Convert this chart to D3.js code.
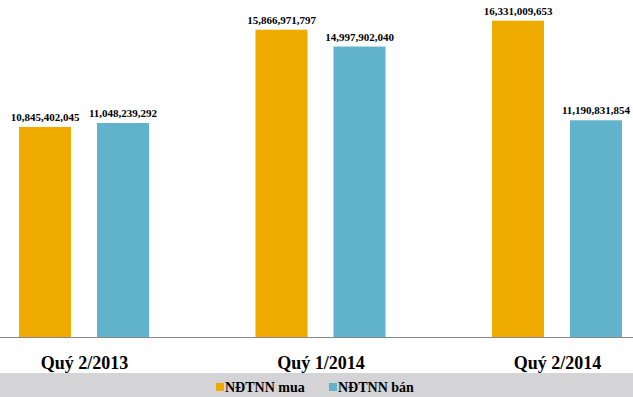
<!DOCTYPE html>
<html>
<head>
<meta charset="utf-8">
<script src="https://cdn.jsdelivr.net/npm/d3@7"></script>
<style>
  html, body { margin: 0; padding: 0; background: #fff; }
  svg { display: block; font-family: "Liberation Serif", "Times New Roman", serif; }
</style>
</head>
<body>
<div id="chart"></div>
<script>
// data
const categories = ["Quý 2/2013", "Quý 1/2014", "Quý 2/2014"];
const seriesNames = ["NĐTNN mua", "NĐTNN bán"];
const muaValues = [10845402045, 15866971797, 16331009653];
const banValues = [11048239292, 14997902040, 11190831854];
const seriesColors = ["#f0ab00", "#60b3cb"];

const width = 633, height = 397;
const baseY = 337;
const serif = "'Liberation Serif', 'Times New Roman', serif";

const svg = d3.select("#chart").append("svg")
  .attr("width", width)
  .attr("height", height);

const rows = categories.map((c, i) => ({ cat: c, values: [muaValues[i], banValues[i]] }));

const x0 = d3.scalePoint()
  .domain(categories)
  .range([84, 557]);

const x1 = d3.scaleBand()
  .domain(seriesNames)
  .range([-65, 65])
  .paddingInner(1 / 3);

const y = d3.scaleLinear()
  .domain([0, 17.4e9])
  .range([baseY, 0]);

const fmt = d3.format(",");

// bars
const groups = svg.selectAll(".grp")
  .data(rows)
  .enter().append("g")
  .attr("class", "grp")
  .attr("transform", d => "translate(" + x0(d.cat) + ",0)");

groups.selectAll("rect")
  .data(d => d.values.map((v, j) => ({ name: seriesNames[j], v: v, j: j })))
  .enter().append("rect")
  .attr("x", d => x1(d.name))
  .attr("y", d => y(d.v))
  .attr("width", x1.bandwidth())
  .attr("height", d => baseY - y(d.v))
  .attr("fill", d => seriesColors[d.j]);

// value labels
groups.selectAll("text")
  .data(d => d.values.map((v, j) => ({ name: seriesNames[j], v: v })))
  .enter().append("text")
  .attr("x", d => x1(d.name) + x1.bandwidth() / 2)
  .attr("y", d => y(d.v) - 6)
  .attr("text-anchor", "middle")
  .style("font-family", serif)
  .style("font-weight", "bold")
  .style("font-size", "11px")
  .attr("fill", "#000")
  .text(d => fmt(d.v));

// x axis line + category labels
const xAxis = svg.append("g")
  .attr("transform", "translate(0," + (baseY + 0.5) + ")")
  .call(d3.axisBottom(x0).tickSize(0).tickPadding(19));
xAxis.attr("font-family", null);
xAxis.select(".domain")
  .attr("d", "M0,0H" + width)
  .attr("stroke", "#888");
xAxis.selectAll("text")
  .style("font-family", serif)
  .style("font-weight", "bold")
  .style("font-size", "18px")
  .attr("fill", "#000");

// legend band
svg.append("rect")
  .attr("x", 0)
  .attr("y", 373)
  .attr("width", width)
  .attr("height", height - 373)
  .attr("fill", "#d4d4d6");

const legendX = [216, 329];
const legend = svg.selectAll(".lg")
  .data(seriesNames)
  .enter().append("g")
  .attr("class", "lg")
  .attr("transform", (d, i) => "translate(" + legendX[i] + ",383)");

legend.append("rect")
  .attr("width", 8)
  .attr("height", 8)
  .attr("fill", (d, i) => seriesColors[i]);

legend.append("text")
  .attr("x", 9)
  .attr("y", 8.5)
  .style("font-family", serif)
  .style("font-weight", "bold")
  .style("font-size", "14px")
  .attr("fill", "#000")
  .text(d => d);
</script>
</body>
</html>
